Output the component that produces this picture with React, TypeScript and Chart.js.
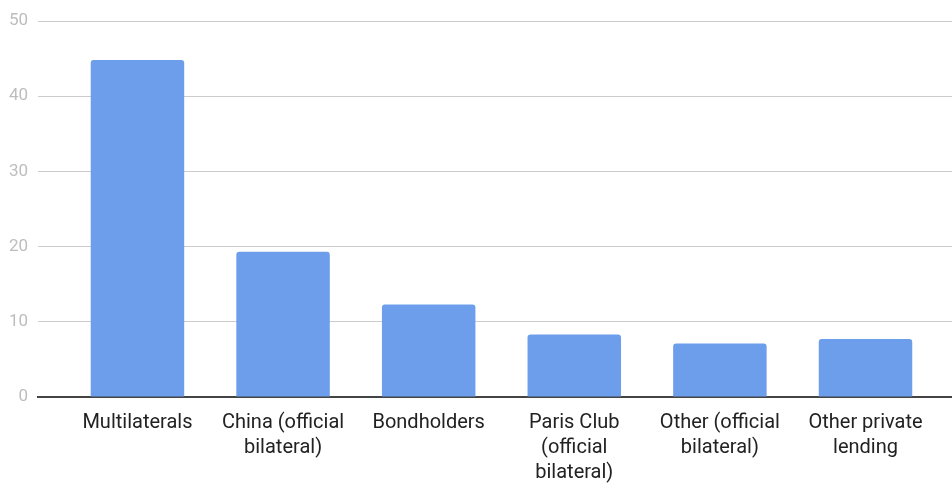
import React, { useEffect, useRef } from "react";
import { Chart, registerables } from "chart.js";

Chart.register(...registerables);

const categories: string[][] = [
  ["Multilaterals"],
  ["China (official", "bilateral)"],
  ["Bondholders"],
  ["Paris Club", "(official", "bilateral)"],
  ["Other (official", "bilateral)"],
  ["Other private", "lending"],
];
const values: number[] = [44.8, 19.3, 12.3, 8.3, 7.1, 7.7];
const yTicks: number[] = [0, 10, 20, 30, 40, 50];

export default function App() {
  const ref = useRef<HTMLCanvasElement | null>(null);
  useEffect(() => {
    document.body.style.margin = "0";
    const ctx = ref.current!;
    const chart = new Chart(ctx, {
      type: "bar",
      data: {
        datasets: [
          {
            data: values.map((v, i) => ({ x: i, y: v })),
            backgroundColor: "#6d9eeb",
            borderRadius: { topLeft: 3, topRight: 3, bottomLeft: 0, bottomRight: 0 },
            borderSkipped: "start",
            categoryPercentage: 0.642,
            barPercentage: 1,
          },
        ],
      },
      options: {
        animation: false,
        responsive: false,
        maintainAspectRatio: false,
        layout: { padding: { top: 21, right: 0, left: 0, bottom: 0 } },
        plugins: { legend: { display: false }, tooltip: { enabled: false } },
        scales: {
          x: {
            type: "linear",
            offset: false,
            min: -0.683,
            max: 5.594,
            afterBuildTicks: (s: any) => {
              s.ticks = categories.map((_, i) => ({ value: i }));
            },
            afterFit: (s: any) => {
              s.height = 86;
            },
            ticks: {
              autoSkip: false,
              maxRotation: 0,
              padding: 13,
              color: "#222222",
              font: { family: "Roboto", size: 20, lineHeight: 25 / 20 },
              callback: (v: any) => categories[v as number] ?? "",
            },
            grid: { display: false, drawTicks: false, offset: false },
            border: { display: true, color: "#444444", width: 2 },
          },
          y: {
            min: 0,
            max: 50,
            afterBuildTicks: (s: any) => {
              s.ticks = yTicks.map((v) => ({ value: v }));
            },
            afterFit: (s: any) => {
              s.width = 38;
            },
            ticks: {
              padding: 10,
              color: "#bdbdbd",
              font: { family: "Roboto", size: 17 },
            },
            grid: { color: "#cccccc", lineWidth: 1, drawTicks: false },
            border: { display: false },
          },
        },
      },
    } as any);
    return () => chart.destroy();
  }, []);
  return <canvas ref={ref} width={952} height={483} style={{ display: "block" }} />;
}
